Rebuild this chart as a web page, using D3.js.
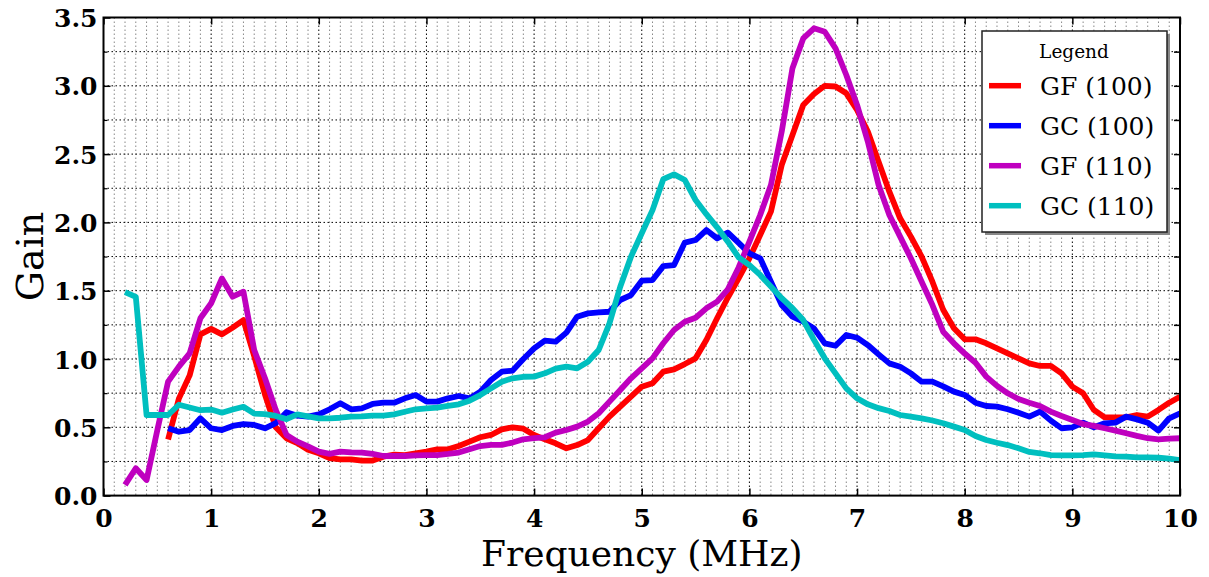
<!DOCTYPE html>
<html>
<head>
<meta charset="utf-8">
<script src="https://cdn.jsdelivr.net/npm/d3@7"></script>
<style>
  html, body { margin: 0; padding: 0; background: #fff; }
  svg { display: block; }
</style>
</head>
<body>
<svg id="chart" width="1209" height="577"></svg>
<script>
// ---------- data ----------
const freq = [0.2,0.3,0.4,0.5,0.6,0.7,0.8,0.9,1.0,1.1,1.2,1.3,1.4,1.5,1.6,1.7,1.8,1.9,2.0,
  2.1,2.2,2.3,2.4,2.5,2.6,2.7,2.8,2.9,3.0,3.1,3.2,3.3,3.4,3.5,3.6,3.7,3.8,3.9,4.0,
  4.1,4.2,4.3,4.4,4.5,4.6,4.7,4.8,4.9,5.0,5.1,5.2,5.3,5.4,5.5,5.6,5.7,5.8,5.9,6.0,
  6.1,6.2,6.3,6.4,6.5,6.6,6.7,6.8,6.9,7.0,7.1,7.2,7.3,7.4,7.5,7.6,7.7,7.8,7.9,8.0,
  8.1,8.2,8.3,8.4,8.5,8.6,8.7,8.8,8.9,9.0,9.1,9.2,9.3,9.4,9.5,9.6,9.7,9.8,9.9,10.0];

const gf100 = [null,null,null,null,
  0.41,0.71,0.88,1.18,1.22,1.18,1.23,1.285,1.02,0.74,0.50,0.42,0.385,0.335,0.31,
  0.275,0.265,0.265,0.256,0.256,0.285,0.30,0.297,0.31,0.322,0.339,0.339,0.363,0.395,0.427,0.444,0.485,0.50,0.49,0.444,
  0.412,0.383,0.346,0.37,0.407,0.493,0.578,0.651,0.724,0.797,0.822,0.907,0.924,0.963,1.005,1.139,1.298,1.45,1.59,1.737,
  1.908,2.079,2.42,2.64,2.86,2.94,3.0,2.995,2.945,2.823,2.665,2.445,2.225,2.03,1.896,1.75,1.566,1.36,1.225,1.144,
  1.144,1.115,1.078,1.041,1.005,0.968,0.949,0.949,0.895,0.798,0.749,0.627,0.573,0.573,0.573,0.59,0.578,0.627,0.68,0.724];

const gc100 = [null,null,null,null,
  0.493,0.468,0.48,0.566,0.493,0.48,0.51,0.524,0.517,0.493,0.53,0.61,0.585,0.578,0.595,
  0.632,0.676,0.632,0.639,0.671,0.68,0.68,0.712,0.736,0.688,0.688,0.712,0.729,0.712,0.761,0.846,0.907,0.915,1.0,1.078,
  1.134,1.127,1.193,1.31,1.334,1.341,1.346,1.432,1.468,1.573,1.578,1.68,1.688,1.852,1.871,1.944,1.883,1.925,1.85,1.773,
  1.737,1.566,1.395,1.31,1.273,1.224,1.114,1.097,1.176,1.156,1.102,1.034,0.968,0.944,0.895,0.834,0.834,0.80,0.761,0.737,
  0.68,0.656,0.651,0.632,0.607,0.578,0.615,0.549,0.493,0.50,0.534,0.50,0.529,0.534,0.578,0.558,0.534,0.476,0.566,0.602];

const gf110 = [0.078,0.2,0.114,0.48,
  0.834,0.944,1.041,1.298,1.408,1.59,1.456,1.493,1.066,0.859,0.627,0.444,0.395,0.36,0.322,
  0.305,0.322,0.317,0.315,0.305,0.29,0.29,0.29,0.295,0.297,0.297,0.305,0.315,0.339,0.363,0.371,0.371,0.388,0.412,0.42,
  0.427,0.461,0.48,0.505,0.542,0.603,0.688,0.773,0.859,0.932,1.005,1.115,1.212,1.273,1.302,1.371,1.42,1.51,1.67,1.859,
  2.054,2.274,2.664,3.128,3.347,3.421,3.396,3.274,3.079,2.86,2.591,2.274,2.054,1.896,1.737,1.566,1.395,1.2,1.115,1.04,
  0.973,0.871,0.803,0.749,0.707,0.68,0.656,0.615,0.583,0.554,0.524,0.51,0.493,0.476,0.456,0.437,0.42,0.412,0.417,0.42];

const gc110 = [1.49,1.455,0.59,0.59,
  0.59,0.665,0.645,0.625,0.63,0.607,0.63,0.65,0.60,0.597,0.583,0.56,0.595,0.58,0.566,
  0.566,0.57,0.578,0.58,0.585,0.585,0.595,0.614,0.632,0.639,0.644,0.656,0.668,0.695,0.736,0.785,0.834,0.859,0.87,0.871,
  0.895,0.929,0.944,0.932,0.98,1.066,1.261,1.529,1.749,1.92,2.09,2.316,2.352,2.31,2.164,2.06,1.964,1.859,1.744,1.688,
  1.615,1.53,1.445,1.372,1.285,1.14,1.005,0.895,0.785,0.712,0.668,0.64,0.619,0.59,0.578,0.566,0.55,0.53,0.505,0.48,
  0.436,0.407,0.387,0.37,0.346,0.32,0.31,0.297,0.294,0.294,0.297,0.302,0.294,0.287,0.285,0.28,0.28,0.277,0.27,0.26];

const seriesNames = ["GF (100)", "GC (100)", "GF (110)", "GC (110)"];
const seriesColors = ["#ff0000", "#0000ff", "#bf00bf", "#00bfbf"];
const seriesValues = [gf100, gc100, gf110, gc110];

const xTickLabels = ["0","1","2","3","4","5","6","7","8","9","10"];
const yTickLabels = ["0.0","0.5","1.0","1.5","2.0","2.5","3.0","3.5"];

// ---------- layout ----------
const svg = d3.select("#chart");
const L = 103.5, R = 1180, T = 17.5, B = 495.6;
const x = d3.scaleLinear().domain([0, 10]).range([L, R]);
const y = d3.scaleLinear().domain([0, 3.5]).range([B, T]);

svg.append("rect").attr("width", 1209).attr("height", 577).attr("fill", "#fff");

// grid
const g = svg.append("g");
const xMinor = d3.range(1, 100).filter(i => i % 10 !== 0).map(i => i / 10);
const xMajor = d3.range(1, 10);
const yGrid = d3.range(1, 14).map(i => i * 0.25);

g.selectAll(".vmin").data(xMinor).enter().append("line")
  .attr("x1", d => x(d)).attr("x2", d => x(d)).attr("y1", T).attr("y2", B)
  .attr("stroke", "#888").attr("stroke-width", 1).attr("stroke-dasharray", "1.5,2.5");
g.selectAll(".vmaj").data(xMajor).enter().append("line")
  .attr("x1", d => x(d)).attr("x2", d => x(d)).attr("y1", T).attr("y2", B)
  .attr("stroke", "#000").attr("stroke-width", 1).attr("stroke-dasharray", "1.5,2.5");
g.selectAll(".hg").data(yGrid).enter().append("line")
  .attr("x1", L).attr("x2", R).attr("y1", d => y(d)).attr("y2", d => y(d))
  .attr("stroke", "#000").attr("stroke-width", 1).attr("stroke-dasharray", "1.5,2.5");

// lines
const line = d3.line()
  .defined(d => d[1] !== null)
  .x(d => x(d[0])).y(d => y(d[1]));

svg.append("clipPath").attr("id", "clip")
  .append("rect").attr("x", L).attr("y", T).attr("width", R - L).attr("height", B - T);

const lines = svg.append("g").attr("clip-path", "url(#clip)");
seriesValues.forEach((vals, i) => {
  const pts = freq.map((f, j) => [f, vals[j]]);
  lines.append("path").datum(pts)
    .attr("d", line)
    .attr("fill", "none")
    .attr("stroke", seriesColors[i])
    .attr("stroke-width", 5.8)
    .attr("stroke-linejoin", "round")
    .attr("stroke-linecap", "butt");
});

// axes with inward ticks
const xTicks = xTickLabels.map(Number);
const yTicks = yTickLabels.map(Number);

svg.append("g").attr("transform", `translate(0,${B})`)
  .call(d3.axisBottom(x).tickValues(xTicks).tickFormat((d, i) => xTickLabels[i]).tickSizeInner(-7).tickSizeOuter(0).tickPadding(14))
  .call(a => a.select(".domain").remove())
  .call(a => a.selectAll("line").attr("stroke-width", 1.5))
  .call(a => a.selectAll("text").attr("font-family", "DejaVu Serif").attr("font-weight", "bold").attr("font-size", 25).attr("fill", "#000"));

svg.append("g").attr("transform", `translate(0,${T})`)
  .call(d3.axisTop(x).tickValues(xTicks).tickFormat("").tickSizeInner(-7).tickSizeOuter(0))
  .call(a => a.select(".domain").remove())
  .call(a => a.selectAll("line").attr("stroke-width", 1.5));

svg.append("g").attr("transform", `translate(${L},0)`)
  .call(d3.axisLeft(y).tickValues(yTicks).tickFormat((d, i) => yTickLabels[i]).tickSizeInner(-7).tickSizeOuter(0).tickPadding(6))
  .call(a => a.select(".domain").remove())
  .call(a => a.selectAll("line").attr("stroke-width", 1.5))
  .call(a => a.selectAll("text").attr("font-family", "DejaVu Serif").attr("font-weight", "bold").attr("font-size", 25).attr("fill", "#000").attr("dy", "0.36em"));

svg.append("g").attr("transform", `translate(${R},0)`)
  .call(d3.axisRight(y).tickValues(yGrid).tickFormat("").tickSizeInner(-6).tickSizeOuter(0))
  .call(a => a.select(".domain").remove())
  .call(a => a.selectAll("line").attr("stroke-width", 1.5));

svg.append("g").attr("transform", `translate(${L},0)`)
  .call(d3.axisLeft(y).tickValues(yGrid.filter(v => v % 0.5 !== 0)).tickFormat("").tickSizeInner(-4).tickSizeOuter(0))
  .call(a => a.select(".domain").remove())
  .call(a => a.selectAll("line").attr("stroke-width", 1.2));

// frame
svg.append("rect").attr("x", L).attr("y", T).attr("width", R - L).attr("height", B - T)
  .attr("fill", "none").attr("stroke", "#000").attr("stroke-width", 2);

// axis titles
svg.append("text").attr("x", (L + R) / 2).attr("y", 566)
  .attr("text-anchor", "middle").attr("font-family", "DejaVu Serif").attr("font-size", 36)
  .text("Frequency (MHz)");
svg.append("text").attr("transform", `translate(43,${(T + B) / 2}) rotate(-90)`)
  .attr("text-anchor", "middle").attr("font-family", "DejaVu Serif").attr("font-size", 38)
  .text("Gain");

// legend
const lg = svg.append("g");
const lx = 982, ly = 31, lw = 185, lh = 201;
lg.append("rect").attr("x", lx + 3).attr("y", ly + 3).attr("width", lw).attr("height", lh).attr("fill", "#888");
lg.append("rect").attr("x", lx).attr("y", ly).attr("width", lw).attr("height", lh)
  .attr("fill", "#fff").attr("stroke", "#222").attr("stroke-width", 1.5);
lg.append("text").attr("x", lx + 92).attr("y", ly + 27).attr("text-anchor", "middle")
  .attr("font-family", "DejaVu Serif").attr("font-size", 18.5).text("Legend");
seriesNames.forEach((name, i) => {
  const cy = 85.7 + i * 40;
  lg.append("line").attr("x1", 989).attr("x2", 1021).attr("y1", cy).attr("y2", cy)
    .attr("stroke", seriesColors[i]).attr("stroke-width", 5.5);
  lg.append("text").attr("x", 1040).attr("y", cy + 9)
    .attr("font-family", "DejaVu Serif").attr("font-size", 25).text(name);
});
</script>
</body>
</html>
